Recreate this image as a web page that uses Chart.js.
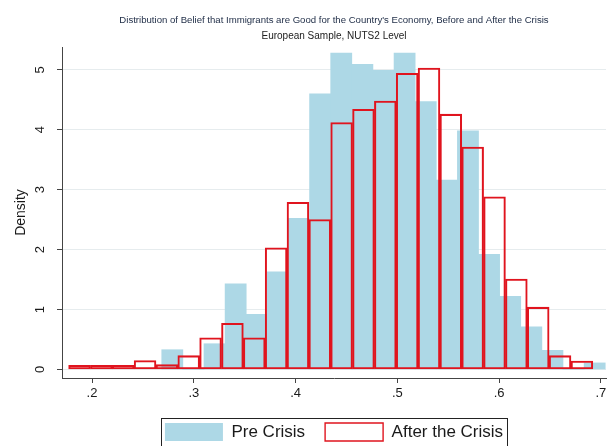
<!DOCTYPE html>
<html>
<head>
<meta charset="utf-8">
<script src="https://cdn.jsdelivr.net/npm/chart.js@4/dist/chart.umd.min.js"></script>
<style>
html, body { margin: 0; padding: 0; background: #fff; }
</style>
</head>
<body>
<canvas id="hist" width="613" height="446"></canvas>
<script>
// pre crisis histogram: left edge of first bin, bin width, density per bin
let preStart = 0.2685;
let preWidth = 0.02075;
let preDensity = [0.33, 0, 0.43, 1.43, 0.92, 1.63, 2.52, 4.60, 5.28, 5.09, 4.99,
	5.28, 4.47, 3.16, 3.98, 1.92, 1.22, 0.71, 0.32, 0, 0.11];

// after the crisis histogram
let postStart = 0.177;
let postWidth = 0.02146;
let postDensity = [0.07, 0.07, 0.07, 0.15, 0.08, 0.23, 0.53, 0.77, 0.53, 2.03, 2.79, 2.50,
	4.12, 4.34, 4.48, 4.94, 5.03, 4.26, 3.71, 2.88, 1.51, 1.04, 0.23, 0.14];

let xTicks = [0.2, 0.3, 0.4, 0.5, 0.6, 0.7];
let xTickLabels = [".2", ".3", ".4", ".5", ".6", ".7"];
let yTicks = [0, 1, 2, 3, 4, 5];


function binPoints(start, width, values) {
	return values.map((v, i) => ({ x: start + width * (i + 0.5), y: v }));
}

// stata style frame round the legend
const legendFrame = {
	id: "legendFrame",
	afterDraw(chart) {
		let hit = chart.legend.legendHitBoxes;
		if (!hit || !hit.length) return;
		let ctx = chart.ctx;
		let left = Math.min(...hit.map(h => h.left)) - 4;
		let right = Math.max(...hit.map(h => h.left + h.width)) + 4;
		let top = hit[0].top - 5;
		ctx.save();
		ctx.strokeStyle = "#222";
		ctx.lineWidth = 1;
		ctx.strokeRect(Math.round(left) + 0.5, Math.round(top) + 0.5, Math.round(right - left), 40);
		ctx.restore();
	}
};

Chart.defaults.font.family = "'Liberation Sans', Arial, sans-serif";
Chart.defaults.color = "#1a1a1a";

new Chart(document.getElementById("hist"), {
	type: "bar",
	data: {
		datasets: [{
			label: "Pre Crisis",
			data: binPoints(preStart, preWidth, preDensity),
			xAxisID: "x",
			backgroundColor: "#add8e6",
			borderWidth: 0,
			order: 1
		}, {
			label: "After the Crisis",
			data: binPoints(postStart, postWidth, postDensity),
			xAxisID: "x2",
			backgroundColor: "rgba(255,255,255,0)",
			borderColor: "#e0141e",
			borderWidth: 1.4,
			borderSkipped: false,
			order: 0
		}]
	},
	options: {
		animation: false,
		responsive: false,
		devicePixelRatio: 1,
		layout: { padding: { top: 11, left: 13, right: 7, bottom: -5 } },
		datasets: { bar: { grouped: false, barPercentage: 1, categoryPercentage: 1 } },
		plugins: {
			title: {
				display: true,
				fullSize: false,
				text: "Distribution of Belief that Immigrants are Good for the Country's Economy, Before and After the Crisis",
				font: { size: 9.6, weight: "normal" },
				color: "#1d2b45",
				padding: { top: 4, bottom: 4 }
			},
			subtitle: {
				display: true,
				fullSize: false,
				text: "European Sample, NUTS2 Level",
				font: { size: 10 },
				color: "#222",
				padding: { top: 0, bottom: 4.5 }
			},
			legend: {
				position: "bottom",
				fullSize: false,
				labels: {
					boxWidth: 58,
					boxHeight: 18,
					padding: 20,
					font: { size: 17 },
					color: "#1a1a1a",
					sort: (a, b) => a.datasetIndex - b.datasetIndex
				}
			},
			tooltip: { enabled: false }
		},
		scales: {
			x: {
				type: "linear",
				min: 0.1705,
				max: 0.705,
				offset: false,
				afterBuildTicks: s => { s.ticks = xTicks.map(v => ({ value: v })); },
				afterFit: s => { s.height = 25; },
				ticks: {
					callback: (v, i) => xTickLabels[i],
					font: { size: 13 },
					padding: 3,
					maxRotation: 0,
					autoSkip: false
				},
				grid: { drawOnChartArea: false, offset: false, tickLength: 5, tickColor: "#444" },
				border: { color: "#444" }
			},
			x2: {
				type: "linear",
				min: 0.1705,
				max: 0.705,
				offset: false,
				display: false,
				afterBuildTicks: s => { s.ticks = xTicks.map(v => ({ value: v })); },
				grid: { offset: false }
			},
			y: {
				min: -0.142,
				max: 5.38,
				afterBuildTicks: s => { s.ticks = yTicks.map(v => ({ value: v })); },
				afterFit: s => { s.width = 49; },
				ticks: { minRotation: 90, maxRotation: 90, crossAlign: "center", padding: 13, font: { size: 13 } },
				grid: { color: "#e6ecee", tickLength: 5, tickColor: "#444" },
				border: { color: "#444" },
				title: { display: true, text: "Density", font: { size: 14 }, padding: 0 }
			}
		}
	},
	plugins: [legendFrame]
});
</script>
</body>
</html>
